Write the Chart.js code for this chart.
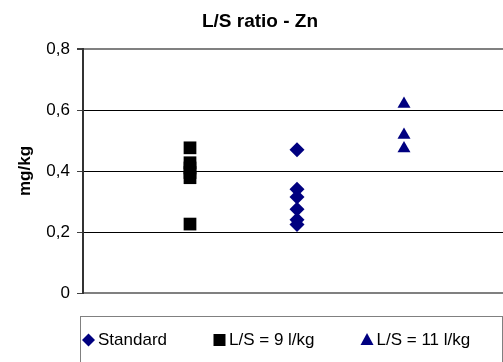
<!DOCTYPE html>
<html>
<head>
<meta charset="utf-8">
<script src="https://cdn.jsdelivr.net/npm/chart.js@4"></script>
<style>
  html, body { margin: 0; padding: 0; background: #fff; overflow: hidden; }
  canvas { display: block; background: #fff; }
</style>
</head>
<body>
<canvas id="grafico" width="520" height="362"></canvas>
<script>
// series, in legend order
const seriesNames = ['Standard', 'L/S = 9 l/kg', 'L/S = 11 l/kg'];
const seriesPos = [2, 1, 3]; // where each series sits on the x axis
const standardValues = [0.47, 0.34, 0.315, 0.275, 0.24, 0.225];
const ls9Values = [0.476, 0.427, 0.41, 0.395, 0.378, 0.226];
const ls11Values = [0.62, 0.518, 0.474];
const yTicks = [0, 0.2, 0.4, 0.6, 0.8];

const seriesValues = [standardValues, ls9Values, ls11Values];
const pointStyles = ['rectRot', 'rect', 'triangle'];
const pointSizes = [7.5, 9, 7.5];
const colors = ['#000080', '#000000', '#000080'];

Chart.defaults.font.family = '"Liberation Sans", Arial, sans-serif';
Chart.defaults.color = '#000';

function fmt(v) {
    if (v === 0) return '0';
    return v.toFixed(1).replace('.', ',');
}

function isTick(v, t) {
    return Math.abs(v - t) < 1e-9;
}

// legend with a box round it, like the spreadsheet one
const boxLegend = {
    id: 'boxLegend',
    afterDraw(chart) {
        const ctx = chart.ctx;
        ctx.save();
        ctx.strokeStyle = '#808080';
        ctx.lineWidth = 1;
        ctx.strokeRect(80.5, 316.5, 422, 60);

        ctx.font = '17px "Liberation Sans", Arial, sans-serif';
        ctx.textBaseline = 'middle';
        ctx.fillStyle = '#000';
        let cursor = 82;
        const y = 340;
        chart.data.datasets.forEach((ds, i) => {
            const cx = cursor + 6.5;
            ctx.fillStyle = ds.backgroundColor;
            ctx.beginPath();
            if (ds.pointStyle === 'rectRot') {
                ctx.moveTo(cx, y - 6.5);
                ctx.lineTo(cx + 6.5, y);
                ctx.lineTo(cx, y + 6.5);
                ctx.lineTo(cx - 6.5, y);
            } else if (ds.pointStyle === 'rect') {
                ctx.rect(cx - 6, y - 6, 12, 12);
            } else {
                ctx.moveTo(cx, y - 7);
                ctx.lineTo(cx + 6.5, y + 5);
                ctx.lineTo(cx - 6.5, y + 5);
            }
            ctx.closePath();
            ctx.fill();
            ctx.fillStyle = '#000';
            ctx.fillText(ds.label, cursor + 16, y);
            cursor = cursor + 16 + ctx.measureText(ds.label).width + 46;
        });
        ctx.restore();
    }
};

const ctx = document.getElementById('grafico');

new Chart(ctx, {
    type: 'scatter',
    data: {
        datasets: seriesNames.map((name, i) => ({
            label: name,
            data: seriesValues[i].map(v => ({ x: seriesPos[i], y: v })),
            pointStyle: pointStyles[i],
            pointRadius: pointSizes[i],
            pointHoverRadius: pointSizes[i],
            backgroundColor: colors[i],
            borderColor: colors[i],
            borderWidth: 0
        }))
    },
    options: {
        responsive: false,
        animation: false,
        layout: { padding: { left: 3, right: 3, top: 0, bottom: 0 } },
        plugins: {
            legend: { display: false },
            tooltip: { enabled: false },
            title: {
                display: true,
                text: 'L/S ratio - Zn',
                font: { size: 19, weight: 'bold' },
                color: '#000',
                padding: { top: 10.6, bottom: 15.6 }
            }
        },
        scales: {
            x: {
                type: 'linear',
                min: 0,
                max: 4,
                ticks: { display: false },
                grid: { display: false },
                border: { color: '#808080', width: 2 },
                afterFit(scale) { scale.height = 69; }
            },
            y: {
                min: 0,
                max: 0.8,
                afterBuildTicks(scale) {
                    scale.ticks = yTicks.map(v => ({ value: v }));
                },
                ticks: {
                    font: { size: 17 },
                    padding: 7,
                    callback: v => fmt(v)
                },
                grid: {
                    tickLength: 6,
                    tickColor: '#404040',
                    color: c => {
                        const v = c.tick ? c.tick.value : 0;
                        if (isTick(v, 0)) return 'rgba(0,0,0,0)';
                        if (isTick(v, 0.8)) return '#808080';
                        return '#000';
                    },
                    lineWidth: c => (c.tick && isTick(c.tick.value, 0.8)) ? 2 : 1
                },
                border: { color: '#333', width: 2 },
                title: {
                    display: true,
                    text: 'mg/kg',
                    font: { size: 17, weight: 'bold' },
                    padding: { top: 12, bottom: 0 }
                },
                afterFit(scale) { scale.width = 80; }
            }
        }
    },
    plugins: [boxLegend]
});
</script>
</body>
</html>
